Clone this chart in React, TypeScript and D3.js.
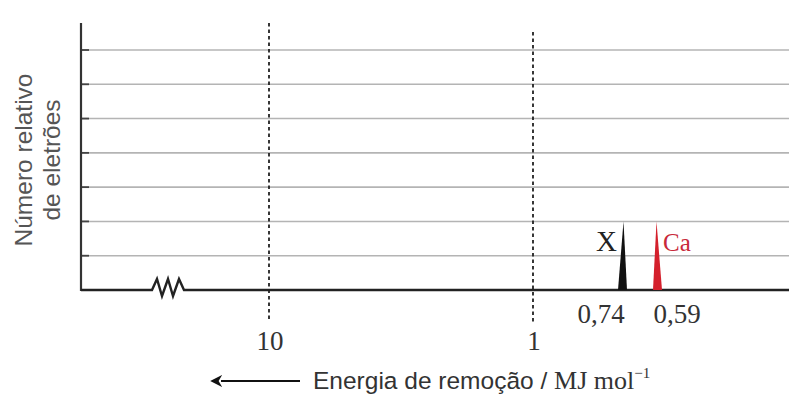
import React from "react";
import * as d3 from "d3";

// ---- data ----
const yTicks = [1, 2, 3, 4, 5, 6, 7];
const axisTicks = [10, 1]; // energy tick labels (MJ/mol)
const axisTickLabels = ["10", "1"];
const peakNames = ["X", "Ca"];
const peakEnergies = [0.74, 0.59];
const peakHeights = [2, 2];
const peakLabels = ["0,74", "0,59"];
const peakColors = ["#111111", "#d4202c"];
const breakEnergy = 40; // axis break position (beyond 10)

const W = 789;
const H = 394;

export default function App() {
  const x = d3
    .scaleLog()
    .domain([40, 10, 1, 0.74, 0.59, 0.3])
    .range([168, 269, 533, 624, 657, 789]);
  const y = d3.scaleLinear().domain([0, 7]).range([290, 50]);
  const x0 = 81;
  const base = y(0);

  const bx = x(breakEnergy);
  const zig = d3.line()([
    [x0, base],
    [bx - 16, base],
    [bx - 11, base - 11],
    [bx - 6, base + 6],
    [bx, base - 11],
    [bx + 5, base + 6],
    [bx + 11, base - 11],
    [bx + 16, base],
    [W, base],
  ] as [number, number][]);

  const serif = "'Liberation Serif', 'Times New Roman', serif";
  const sans = "'Liberation Sans', Arial, sans-serif";

  return (
    <svg width={W} height={H} style={{ position: "absolute", left: 0, top: 0, background: "#fff" }}>
      {/* grid lines */}
      {yTicks.map((t) => (
        <line key={"g" + t} x1={x0} x2={W} y1={y(t)} y2={y(t)} stroke="#b4b4b4" strokeWidth={1.6} />
      ))}
      {/* ticks */}
      {yTicks.map((t) => (
        <line key={"t" + t} x1={x0} x2={x0 + 8} y1={y(t)} y2={y(t)} stroke="#444" strokeWidth={1.8} />
      ))}
      {/* dashed decade lines */}
      {axisTicks.map((v, i) => (
        <line
          key={"d" + v}
          x1={x(v)}
          x2={x(v)}
          y1={i === 0 ? 23 : 32}
          y2={322}
          stroke="#222"
          strokeWidth={1.8}
          strokeDasharray="3.5 3"
        />
      ))}
      {/* y axis */}
      <line x1={x0} x2={x0} y1={23} y2={base + 1} stroke="#333" strokeWidth={2.2} />
      {/* x axis with break */}
      <path d={zig ?? ""} fill="none" stroke="#222" strokeWidth={2.4} />
      {/* peaks */}
      {peakEnergies.map((e, i) => {
        const px = x(e);
        const pts =
          i === 0
            ? [
                [px - 6, base],
                [px - 0.5, y(peakHeights[i])],
                [px + 3, base],
              ]
            : [
                [px - 4, base],
                [px - 0.5, y(peakHeights[i])],
                [px + 5, base],
              ];
        return (
          <polygon key={"p" + i} points={pts.map((p) => p.join(",")).join(" ")} fill={peakColors[i]} />
        );
      })}
      {/* peak names */}
      <text x={x(peakEnergies[0]) - 7} y={251} textAnchor="end" fontFamily={serif} fontSize={29} fill="#222">
        {peakNames[0]}
      </text>
      <text x={x(peakEnergies[1]) + 6} y={251} textAnchor="start" fontFamily={serif} fontSize={25} fill="#c8283a">
        {peakNames[1]}
      </text>
      {/* peak value labels */}
      <text x={x(peakEnergies[0]) - 23} y={323} textAnchor="middle" fontFamily={serif} fontSize={27} fill="#333">
        {peakLabels[0]}
      </text>
      <text x={x(peakEnergies[1]) + 20} y={323} textAnchor="middle" fontFamily={serif} fontSize={27} fill="#333">
        {peakLabels[1]}
      </text>
      {/* decade labels */}
      {axisTicks.map((v, i) => (
        <text key={"l" + v} x={x(v) + 1} y={350} textAnchor="middle" fontFamily={serif} fontSize={27} fill="#333">
          {axisTickLabels[i]}
        </text>
      ))}
      {/* y label */}
      <g transform="translate(0,160) rotate(-90)">
        <text x={0} y={32} textAnchor="middle" fontFamily={sans} fontSize={24.5} fill="#555">
          Número relativo
        </text>
        <text x={0} y={60} textAnchor="middle" fontFamily={sans} fontSize={24.5} fill="#555">
          de eletrões
        </text>
      </g>
      {/* x title with arrow */}
      <defs>
        <marker id="ah" viewBox="0 0 10 10" refX="1" refY="5" markerWidth="6" markerHeight="6" orient="auto-start-reverse">
          <path d="M0,0 L10,5 L0,10 L3,5 z" fill="#111" />
        </marker>
      </defs>
      <line x1={221} x2={300} y1={381} y2={381} stroke="#111" strokeWidth={2} markerStart="url(#ah)" />
      <text x={313} y={389} fontFamily={sans} fontSize={24.5} fill="#333">
        Energia de remoção /{" "}
        <tspan fontFamily={serif} fontSize={26}>
          MJ mol
        </tspan>
        <tspan fontFamily={serif} fontSize={15} dy={-11}>
          −1
        </tspan>
      </text>
    </svg>
  );
}
